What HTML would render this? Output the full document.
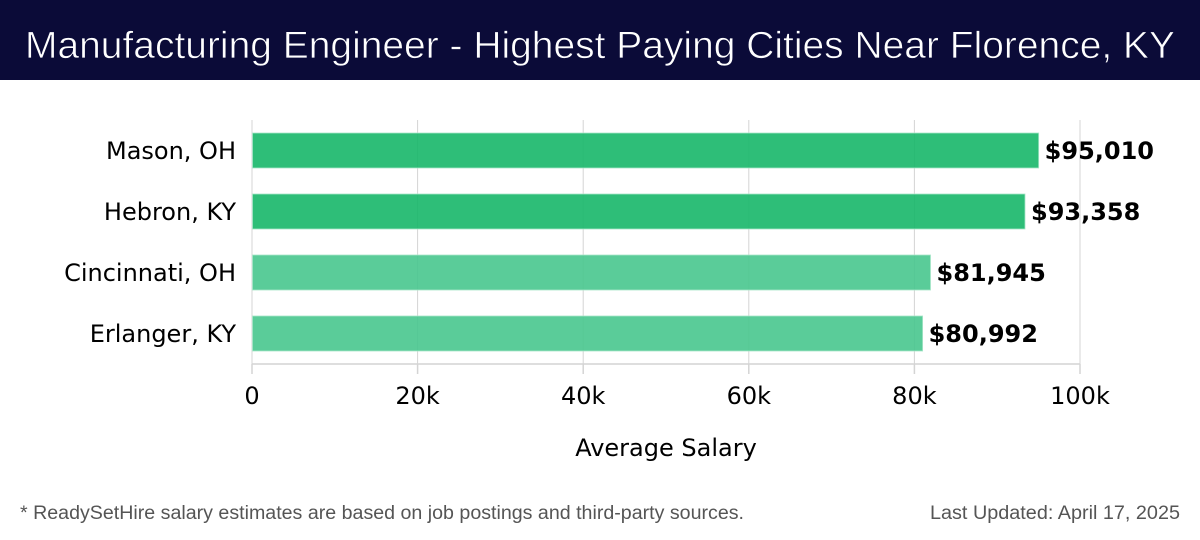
<!DOCTYPE html>
<html>
<head>
<meta charset="utf-8">
<style>
html,body{margin:0;padding:0;background:#fff;width:1200px;height:540px;overflow:hidden}
svg{display:block}
text{font-family:"DejaVu Sans","Liberation Sans",sans-serif}
.ub{font-family:"Liberation Sans",sans-serif}
</style>
</head>
<body>
<svg id="chart" width="1200" height="540" viewBox="0 0 1200 540" xmlns="http://www.w3.org/2000/svg">
  <rect x="0" y="0" width="1200" height="80" fill="#0b0b38"/>
  <text class="ub" x="25" y="58" font-size="38" fill="#ffffff" stroke="#0b0b38" stroke-width="0.7" textLength="1150" lengthAdjust="spacingAndGlyphs">Manufacturing Engineer - Highest Paying Cities Near Florence, KY</text>
  <g id="grid"></g>
  <g id="bars"></g>
  <g id="axis"></g>
  <g id="labels"></g>
  <text x="666" y="456" font-size="24" fill="#000" text-anchor="middle">Average Salary</text>
  <text class="ub" x="20" y="519" font-size="19" fill="#555" textLength="724" lengthAdjust="spacingAndGlyphs">* ReadySetHire salary estimates are based on job postings and third-party sources.</text>
  <text class="ub" x="930" y="519" font-size="19" fill="#555" textLength="250" lengthAdjust="spacingAndGlyphs">Last Updated: April 17, 2025</text>
</svg>
<script>
const categories = ["Mason, OH", "Hebron, KY", "Cincinnati, OH", "Erlanger, KY"];
const salaries = [95010, 93358, 81945, 80992];
const emphasis = [1, 1, 0, 0];
const ticks = [0, 20000, 40000, 60000, 80000, 100000];
const tickLabels = ["0", "20k", "40k", "60k", "80k", "100k"];

const NS = "http://www.w3.org/2000/svg";
const plot = {left: 252, right: 1080, top: 120, bottom: 364};
const xMax = 100000;
function xScale(v) { return plot.left + (v / xMax) * (plot.right - plot.left); }
function bandStep() { return (plot.bottom - plot.top) / categories.length; }
function yCenter(i) { return plot.top + bandStep() * (i + 0.5); }
function make(tag, attrs, parent, txt) {
  const el = document.createElementNS(NS, tag);
  for (const k in attrs) el.setAttribute(k, attrs[k]);
  if (txt !== undefined) el.textContent = txt;
  parent.appendChild(el);
  return el;
}
const grid = document.getElementById("grid");
const bars = document.getElementById("bars");
const axis = document.getElementById("axis");
const labels = document.getElementById("labels");

ticks.forEach(function (t, i) {
  const x = xScale(t);
  const g = make("line", {x1: x, x2: x, y1: plot.top, y2: plot.bottom, stroke: "#d4d4d4", "stroke-width": 1}, grid);
  
  
  const tk = make("line", {x1: x, x2: x, y1: plot.bottom, y2: plot.bottom + 10, stroke: "#d4d4d4", "stroke-width": 1.5}, axis);
  
  
  const tl = make("text", {x: x, y: 404, "font-size": 24, "text-anchor": "middle", fill: "#000"}, axis, tickLabels[i]);
  
  
});
const base = make("line", {x1: plot.left, x2: plot.right, y1: plot.bottom, y2: plot.bottom, stroke: "#d4d4d4", "stroke-width": 1.5}, axis);



categories.forEach(function (c, i) {
  const h = 35;
  const y = yCenter(i) - h / 2;
  const w = xScale(salaries[i]) - plot.left;
  const fill = emphasis[i] ? "#17b769" : "#48c78e";
  const r = make("rect", {x: plot.left + 0.5, y: y, width: w - 0.5, height: h, fill: fill, "fill-opacity": 0.9, stroke: "#a8e6c9", "stroke-width": 0.8}, bars);
  
  
  const cl = make("text", {x: 236, y: yCenter(i) + 8.5, "font-size": 24, "text-anchor": "end", fill: "#000"}, labels, c);
  
  
  const vl = make("text", {x: xScale(salaries[i]) + 6, y: yCenter(i) + 8.5, "font-size": 24, "font-weight": "bold", fill: "#000"}, labels, "$" + salaries[i].toLocaleString("en-US"));
  
  
});
</script>
</body>
</html>
